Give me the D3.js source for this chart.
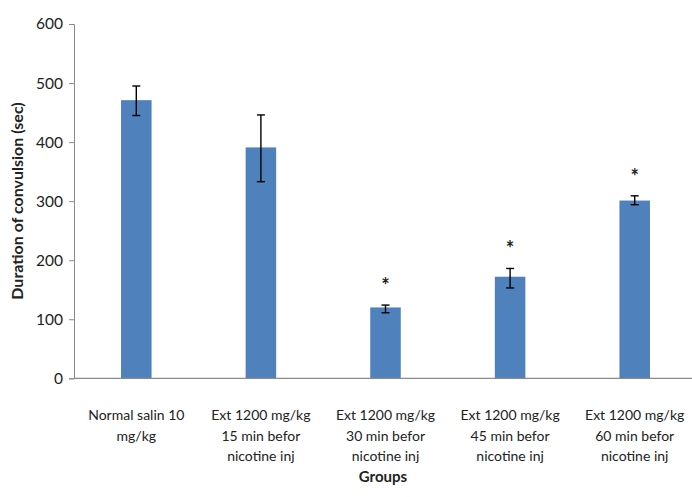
<!DOCTYPE html>
<html>
<head>
  <style>
    body { margin: 0; background: #fff; }
    text { font-family: Lato, "Open Sans", sans-serif; fill: #222; }
  </style>
</head>
<body>
  <svg id="chart" width="692" height="497"></svg>
  <script src="https://d3js.org/d3.v7.min.js"></script>
  <script>
    // data
    const groups = [
      ["Normal salin 10", "mg/kg"],
      ["Ext 1200 mg/kg", "15 min befor", "nicotine inj"],
      ["Ext 1200 mg/kg", "30 min befor", "nicotine inj"],
      ["Ext 1200 mg/kg", "45 min befor", "nicotine inj"],
      ["Ext 1200 mg/kg", "60 min befor", "nicotine inj"]
    ]
    const means = [471, 391, 120, 172, 301]
    const errUp = [24, 55, 4, 14, 8]
    const errDown = [26, 58, 9, 19, 7]
    const signif = [false, false, true, true, true]
    const yTicks = [0, 100, 200, 300, 400, 500, 600]

    const svg = d3.select("#chart")
    const plotLeft = 74, plotRight = 697, plotTop = 24, plotBottom = 378.3

    let x = d3.scaleBand()
      .domain(d3.range(groups.length))
      .range([plotLeft, plotRight])

    let y = d3.scaleLinear()
      .domain([0, 600])
      .range([plotBottom, plotTop])

    const barW = x.bandwidth() * 0.245

    // y axis
    let yAxis = svg.append("g")
      .attr("transform", "translate(" + plotLeft + ",0)")
      .call(d3.axisLeft(y).tickValues(yTicks).tickSize(5).tickPadding(6))
    yAxis.select(".domain").attr("stroke", "#8a8a8a")
    yAxis.selectAll(".tick line").attr("stroke", "#8a8a8a")
    yAxis.selectAll(".tick text")
      .style("font-family", "Lato, sans-serif")
      .style("font-size", "15.5px")
      .attr("fill", "#222")

    // bars
    svg.selectAll("rect.bar")
      .data(means)
      .join("rect")
      .attr("class", "bar")
      .attr("x", (d, i) => x(i) + x.bandwidth() / 2 - barW / 2)
      .attr("y", d => y(d))
      .attr("width", barW)
      .attr("height", d => y(0) - y(d))
      .attr("fill", "#4f81bd")

    // x axis line
    svg.append("line")
      .attr("x1", plotLeft).attr("x2", 692)
      .attr("y1", y(0)).attr("y2", y(0))
      .attr("stroke", "#8a8a8a")
      .attr("stroke-width", 1.3)

    // error bars
    let err = svg.append("g").attr("stroke", "#000").attr("stroke-width", 1.4)
    means.forEach((m, i) => {
      const cx = x(i) + x.bandwidth() / 2
      err.append("line")
        .attr("x1", cx).attr("x2", cx)
        .attr("y1", y(m + errUp[i])).attr("y2", y(m - errDown[i]))
      ;[m + errUp[i], m - errDown[i]].forEach(v => {
        err.append("line")
          .attr("x1", cx - 4).attr("x2", cx + 4)
          .attr("y1", y(v)).attr("y2", y(v))
      })
      if (signif[i]) {
        svg.append("text")
          .attr("x", cx)
          .attr("y", y(m + errUp[i]) - 12)
          .attr("text-anchor", "middle")
          .style("font-size", "20px")
          .style("font-weight", "bold")
          .text("*")
      }
    })

    // category labels
    groups.forEach((lines, i) => {
      const cx = x(i) + x.bandwidth() / 2
      let t = svg.append("text")
        .attr("text-anchor", "middle")
        .style("font-size", "14px")
      lines.forEach((s, j) => {
        t.append("tspan")
          .attr("x", cx)
          .attr("y", 420 + j * 20.5)
          .text(s)
      })
    })

    // axis titles
    svg.append("text")
      .attr("x", (plotLeft + 692) / 2)
      .attr("y", 482)
      .attr("text-anchor", "middle")
      .style("font-size", "15px")
      .style("font-weight", "bold")
      .attr("fill", "#333")
      .text("Groups")

    svg.append("text")
      .attr("transform", "translate(23,201) rotate(-90)")
      .attr("text-anchor", "middle")
      .style("font-size", "16px")
      .style("font-weight", "bold")
      .text("Duration of convulsion (sec)")
  </script>
</body>
</html>
